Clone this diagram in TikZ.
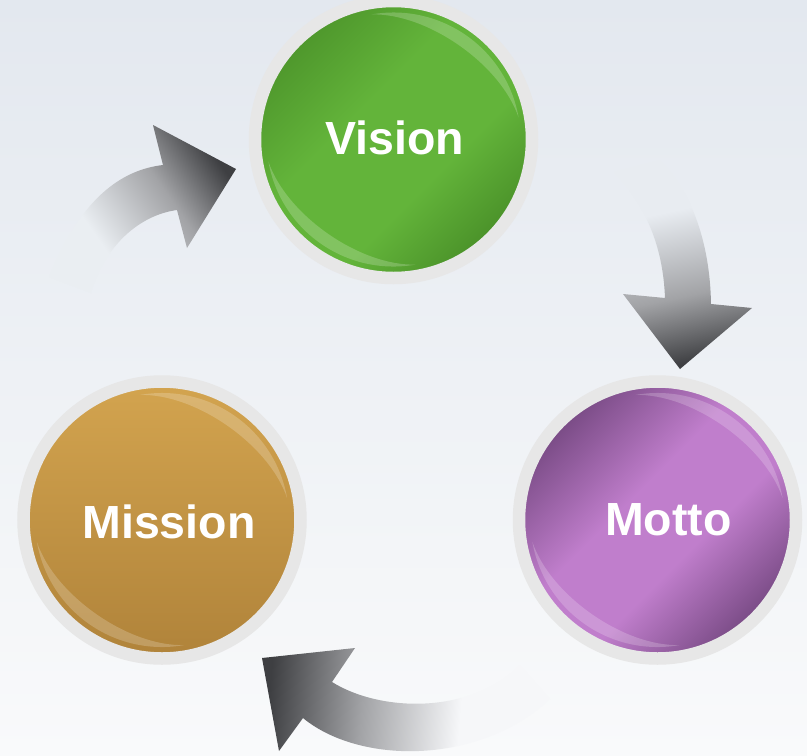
\documentclass[tikz,border=0pt]{standalone}
\usepackage{fontspec}
\setmainfont{Liberation Sans}
\usepackage{tikz}
\usetikzlibrary{calc}

\definecolor{fondhaut}{HTML}{E3E8EF}
\definecolor{fondbas}{HTML}{F9FAFB}
\definecolor{anneau}{HTML}{E7E7E7}
\definecolor{vertfonce}{HTML}{4A9129}
\definecolor{vertclair}{HTML}{63B43A}
\definecolor{violetfonce}{HTML}{784A84}
\definecolor{violetclair}{HTML}{C07ECC}
\definecolor{orclair}{HTML}{D3A44F}
\definecolor{orfonce}{HTML}{B0833A}
\definecolor{flechemilieu}{HTML}{A2A3A6}
\definecolor{flechefonce}{HTML}{3E3F42}
\definecolor{queue1}{HTML}{EAEEF2}
\definecolor{queue2}{HTML}{E8ECF1}
\definecolor{queue3}{HTML}{F6F7F9}

% Degrades des boules et des fleches
\pgfdeclareverticalshading{bouleverte}{100bp}{color(0bp)=(vertfonce); color(25bp)=(vertfonce); color(40bp)=(vertclair); color(58bp)=(vertclair); color(75bp)=(vertfonce!85!vertclair); color(100bp)=(vertfonce!85!vertclair)}
\pgfdeclareverticalshading{bouleviolette}{100bp}{color(0bp)=(violetfonce); color(25bp)=(violetfonce); color(42bp)=(violetclair); color(56bp)=(violetclair); color(75bp)=(violetfonce); color(100bp)=(violetfonce)}
\pgfdeclareverticalshading{fleche1}{100bp}{color(0bp)=(flechefonce); color(25bp)=(flechefonce); color(42bp)=(flechemilieu); color(65bp)=(queue1); color(100bp)=(queue1)}
\pgfdeclareverticalshading{fleche2}{100bp}{color(0bp)=(flechefonce); color(25bp)=(flechefonce); color(42bp)=(flechemilieu); color(64bp)=(queue2); color(100bp)=(queue2)}
\pgfdeclareverticalshading{fleche3}{100bp}{color(0bp)=(flechefonce); color(25bp)=(flechefonce); color(42bp)=(flechemilieu); color(60bp)=(queue3); color(100bp)=(queue3)}

\tikzset{
  boule/.style={circle, minimum size=277pt, inner sep=0pt, draw=anneau, line width=12.5pt},
  mot/.style={text=white, inner sep=0pt, font=\fontsize{46.5}{50}\selectfont\bfseries},
  fleche/.style 2 args={shading=#2, shading angle=#1},
  reflet/.style={fill=white, fill opacity=0.2}
}

\begin{document}
\begin{tikzpicture}[x=1pt, y=-1pt]
  % Fond
  \shade[top color=fondhaut, bottom color=fondbas] (0,0) rectangle (807,756);
  \useasboundingbox (0,0) rectangle (807,756);

  % Cercles
  \node[boule, shading=bouleverte, shading angle=45] (vision) at (393.5,139.5) {};
  \node[boule, shading=bouleviolette, shading angle=45] (motto) at (657.5,520) {};
  \node[boule, top color=orclair, bottom color=orfonce] (mission) at (162,520) {};

  % Reflets
  \foreach \c in {vision, motto, mission} {
    \foreach \a in {55, 235} {
      \fill[reflet] ($(\c)+(\a-45:127pt)$) arc (\a-45:\a+45:127pt)
        .. controls ($(\c)+(\a+20:131pt)$) and ($(\c)+(\a-20:131pt)$) .. cycle;
    }
  }

  % Textes
  \node[mot] (visionmot) at ([shift={(1,-2)}]vision) {Vision};
  \node[mot] (mottomot) at ([shift={(11,0)}]motto) {Motto};
  \node[mot] (missionmot) at ([shift={(7,2)}]mission) {Mission};

  % Fleches
  \shade[fleche={125}{fleche1}] (49,277) .. controls (80,200) and (120,170) .. (163,165)
    -- (153,125) -- (236,169) -- (187,248) -- (177,210)
    .. controls (140,215) and (105,245) .. (91,293) -- cycle;
  \shade[fleche={12}{fleche2}] (614,172) .. controls (645,205) and (663,245) .. (665,298)
    -- (623,294) -- (680,369) -- (752,308) -- (711,304)
    .. controls (710,240) and (690,190) .. (660,160) -- cycle;
  \shade[fleche={265}{fleche3}] (520,665) .. controls (470,715) and (380,712) .. (332,682)
    -- (355,648) -- (262,658) -- (279,751) -- (303,718)
    .. controls (360,765) and (480,765) .. (550,699) -- cycle;
\end{tikzpicture}
\end{document}
